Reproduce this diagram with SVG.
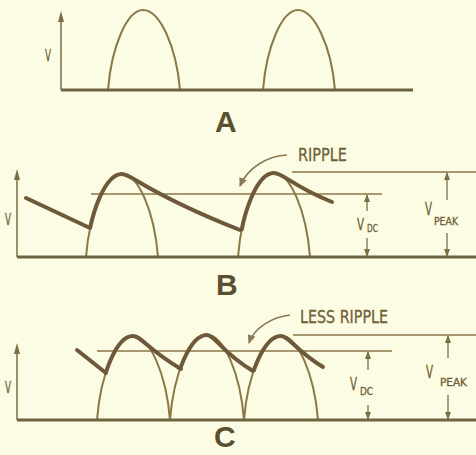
<svg xmlns="http://www.w3.org/2000/svg" xmlns:xlink="http://www.w3.org/1999/xlink" width="476" height="455" viewBox="0 0 476 455">
<style>
.bg{fill:#fcfce4}
.arch{fill:none;stroke:#8a7848;stroke-width:2}
.thick{fill:none;stroke:#6e5a3a;stroke-width:4;stroke-linecap:round;stroke-linejoin:round}
.base{fill:none;stroke:#6d6540;stroke-width:3}
.axis{fill:none;stroke:#7a6e45;stroke-width:1.5}
.ah{fill:#7a6e45}
.lvl{fill:none;stroke:#8a7848;stroke-width:1.6}
.dim{fill:none;stroke:#7a6e45;stroke-width:1.3;marker-end:url(#dimhead)}
.rip{fill:none;stroke:#8a7a55;stroke-width:1.6;marker-end:url(#riphead)}
.t{font-family:"Liberation Sans Narrow","DejaVu Sans Condensed","Liberation Sans",sans-serif;fill:#6f6035;stroke:#6f6035;stroke-width:0.3}
.big{font-family:"Liberation Sans","DejaVu Sans",sans-serif;font-weight:bold;fill:#5a5030;font-size:30px}
</style>
<defs>
<marker id="dimhead" markerUnits="userSpaceOnUse" markerWidth="8" markerHeight="6" refX="7" refY="3" orient="auto">
<path d="M0,0 L8,3 L0,6 z" fill="#7a6e45"/>
</marker>
<marker id="riphead" markerUnits="userSpaceOnUse" markerWidth="10" markerHeight="8" refX="8" refY="4" orient="auto">
<path d="M0,0 L9,4 L0,8 z" fill="#8a7a55"/>
</marker>
<path id="b1" d="M86,257 C89.6,211.35 105.8,174 122,174 C138.2,174 154.4,211.35 158,257"/>
<path id="b2" d="M238,257 C241.6,210.8 257.8,173 274,173 C290.2,173 306.4,210.8 310,257"/>
<path id="c1" d="M97,420 C100.6,373.8 116.8,336 133,336 C149.6,336 166.3,373.8 170,420"/>
<path id="c2" d="M170,420 C173.7,373.25 190.35,335 207,335 C223.65,335 240.3,373.25 244,420"/>
<path id="c3" d="M244,420 C247.7,373.8 264.35,336 281,336 C297.65,336 314.3,373.8 318,420"/>
<clipPath id="kb1"><rect x="80" y="160" width="42" height="69"/></clipPath>
<clipPath id="kb2"><rect x="230" y="160" width="44" height="71"/></clipPath>
<clipPath id="kc1"><rect x="90" y="325" width="43" height="48"/></clipPath>
<clipPath id="kc2"><rect x="165" y="325" width="42" height="45"/></clipPath>
<clipPath id="kc3"><rect x="240" y="325" width="41" height="47"/></clipPath>
</defs>
<rect class="bg" x="0" y="0" width="476" height="455"/>

<g id="panelA">
<path class="axis" d="M61,90 V18"/>
<polygon class="ah" points="61,11 58,22 64,22"/>
<path class="arch" d="M108,90 C111.5,46 127.25,10 143,10 C159.65,10 176.3,46 180,90"/>
<path class="arch" d="M263,90 C266.5,46 282.25,10 298,10 C314.2,10 331.4,46 335,90"/>
<path class="base" d="M61,90 H413"/>
<text class="t" x="45" y="61" font-size="16" textLength="6" lengthAdjust="spacingAndGlyphs">V</text>
<text class="big" x="215" y="132">A</text>
</g>

<g id="panelB">
<path class="axis" d="M17,257 V176"/>
<polygon class="ah" points="17,169 14,180 20,180"/>
<use href="#b1" class="arch"/>
<use href="#b2" class="arch"/>
<path class="lvl" d="M91,194 H382"/>
<path class="lvl" d="M292,172 H476"/>
<use href="#b1" class="thick" clip-path="url(#kb1)"/>
<use href="#b2" class="thick" clip-path="url(#kb2)"/>
<path class="thick" d="M26,198 L90,228"/>
<path class="thick" d="M122,174 C132,174 144,192 240,230"/>
<path class="thick" d="M274,173 C283,173 292,186 332,202"/>
<path class="base" d="M17,257 H476"/>
<path class="dim" d="M367,211 V195"/>
<path class="dim" d="M367,238 V256"/>
<path class="dim" d="M447,200 V173"/>
<path class="dim" d="M447,233 V256"/>
<path class="rip" d="M287,155 C268,156 248,167 240,186"/>
<text class="t" x="5" y="225" font-size="15" textLength="6" lengthAdjust="spacingAndGlyphs">V</text>
<text class="t" x="298" y="161" font-size="18" textLength="49" lengthAdjust="spacingAndGlyphs">RIPPLE</text>
<text class="t" x="357" y="230" font-size="16" textLength="7" lengthAdjust="spacingAndGlyphs">V</text>
<text class="t" x="367" y="232" font-size="10" textLength="11" lengthAdjust="spacingAndGlyphs">DC</text>
<text class="t" x="425" y="215" font-size="17" textLength="7" lengthAdjust="spacingAndGlyphs">V</text>
<text class="t" x="434" y="225" font-size="10" textLength="24" lengthAdjust="spacingAndGlyphs">PEAK</text>
<text class="big" x="216" y="295">B</text>
</g>

<g id="panelC">
<path class="axis" d="M17,420 V350"/>
<polygon class="ah" points="17,343 14,354 20,354"/>
<use href="#c1" class="arch"/>
<use href="#c2" class="arch"/>
<use href="#c3" class="arch"/>
<path class="lvl" d="M97,351 H392"/>
<path class="lvl" d="M293,335 H476"/>
<use href="#c1" class="thick" clip-path="url(#kc1)"/>
<use href="#c2" class="thick" clip-path="url(#kc2)"/>
<use href="#c3" class="thick" clip-path="url(#kc3)"/>
<path class="thick" d="M77,350 L106,373"/>
<path class="thick" d="M133,336 C141,336 147,349 181,369"/>
<path class="thick" d="M207,335 C215,335 221,352 253,371"/>
<path class="thick" d="M281,336 C289,336 295,350 323,367"/>
<path class="base" d="M17,420 H476"/>
<path class="dim" d="M368,370 V352"/>
<path class="dim" d="M368,405 V419"/>
<path class="dim" d="M448,358 V336"/>
<path class="dim" d="M448,395 V419"/>
<path class="rip" d="M290,315 C272,317 254,328 249,343"/>
<text class="t" x="5" y="393" font-size="15" textLength="6" lengthAdjust="spacingAndGlyphs">V</text>
<text class="t" x="300" y="323" font-size="18" textLength="88" lengthAdjust="spacingAndGlyphs">LESS RIPPLE</text>
<text class="t" x="350" y="390" font-size="17" textLength="7" lengthAdjust="spacingAndGlyphs">V</text>
<text class="t" x="360" y="395" font-size="10" textLength="13" lengthAdjust="spacingAndGlyphs">DC</text>
<text class="t" x="426" y="378" font-size="17" textLength="7" lengthAdjust="spacingAndGlyphs">V</text>
<text class="t" x="440" y="386" font-size="10" textLength="27" lengthAdjust="spacingAndGlyphs">PEAK</text>
<text class="big" x="214" y="447">C</text>
</g>
</svg>
